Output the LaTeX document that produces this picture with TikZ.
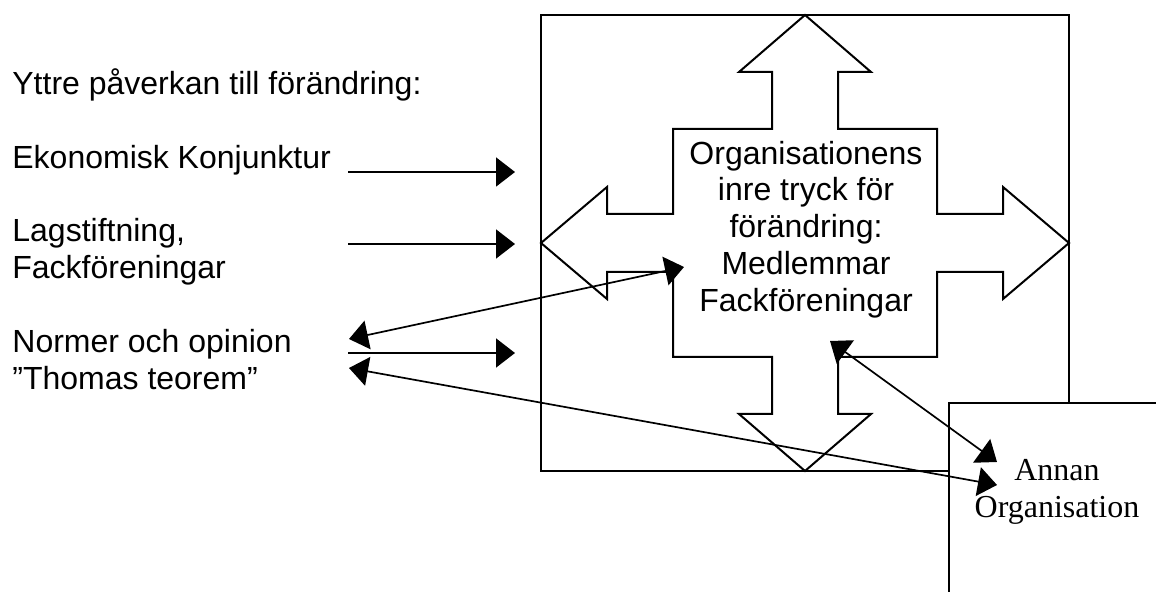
\documentclass[tikz,border=0pt]{standalone}
\usepackage{fontspec}
\newfontfamily\arialf{Liberation Sans}
\newfontfamily\timesf{Liberation Serif}
\usetikzlibrary{arrows.meta}
\begin{document}
\begin{tikzpicture}[x=0.5pt,y=-0.5pt,
  sans/.style={font=\arialf\fontsize{16}{18.4}\selectfont, inner sep=0pt},
  serif/.style={font=\timesf\fontsize{16}{18.5}\selectfont, inner sep=0pt},
  frame/.style={draw=black, line width=1pt, line join=miter},
  conn/.style={draw=black, line width=0.85pt},
  onetip/.style={conn, -{Triangle[length=9.5pt,width=14.5pt]}},
  twotip/.style={conn, {Triangle[length=9.5pt,width=14.5pt]}-{Triangle[length=9.5pt,width=14.5pt]}}]
\fill[white] (0,0) rectangle (1156,592);
\useasboundingbox (0,0) rectangle (1156,592);
% main box
\draw[frame] (541,15) rectangle (1069,471);
% cross arrow
\coordinate (crossc) at (805,243);
\draw[frame] (805,15) -- (871,72) -- (838,72) -- (838,129) -- (937,129) -- (937,214)
  -- (1003,214) -- (1003,187) -- (1069,243) -- (1003,299) -- (1003,272) -- (937,272)
  -- (937,357) -- (838,357) -- (838,414) -- (871,414) -- (805,471) -- (739,414)
  -- (772,414) -- (772,357) -- (673,357) -- (673,272) -- (607,272) -- (607,299)
  -- (541,243) -- (607,187) -- (607,214) -- (673,214) -- (673,129) -- (772,129)
  -- (772,72) -- (739,72) -- cycle;
\node[sans, align=center] (inre) at (806,229.5) {Organisationens\\inre tryck för\\förändring:\\Medlemmar\\Fackföreningar};
% other organisation box
\fill[white] (949,403) rectangle (1156,592);
\draw[frame] (1160,403) -- (949,403) -- (949,596);
\node[serif, align=center] (annan) at (1057,491.5) {Annan\\Organisation};
% left texts
\node[sans, anchor=base west] (yttre) at (12,95) {Yttre påverkan till förändring:};
\node[sans, anchor=base west] (ekon) at (12,169) {Ekonomisk Konjunktur};
\node[sans, anchor=west, align=left] (lag) at (12,251.5) {Lagstiftning,\\Fackföreningar};
\node[sans, anchor=west, align=left] (norm) at (12,359.5) {Normer och opinion\\”Thomas teorem”};
% connector end points
\coordinate (e0) at (348,172);  \coordinate (e1) at (515,172);
\coordinate (l0) at (348,244);  \coordinate (l1) at (515,244);
\coordinate (n0) at (348,353);  \coordinate (n1) at (515,353);
\coordinate (b0) at (349,339);  \coordinate (b1) at (684,267);
\coordinate (c0) at (349,368);  \coordinate (c1) at (997,485);
\coordinate (d0) at (830,341);  \coordinate (d1) at (997,462);
% connectors
\draw[onetip] (e0) -- (e1);
\draw[onetip] (l0) -- (l1);
\draw[onetip] (n0) -- (n1);
\draw[twotip] (b0) -- (b1);
\draw[twotip] (c0) -- (c1);
\draw[twotip] (d0) -- (d1);
\end{tikzpicture}
\end{document}
